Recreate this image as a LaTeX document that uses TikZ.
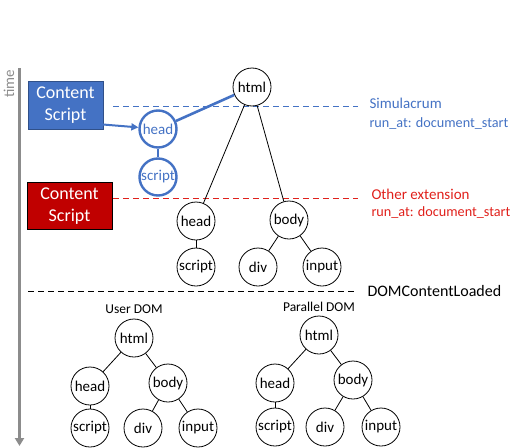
\documentclass[tikz,border=0pt]{standalone}
\usepackage{fontspec}
\setmainfont{Carlito}
\usetikzlibrary{arrows.meta}
\definecolor{myblue}{HTML}{4472C4}
\definecolor{boxred}{HTML}{C00000}
\definecolor{myred}{HTML}{E0201B}
\definecolor{mygray}{HTML}{8C8C8C}
\tikzset{
  dom/.style={circle,draw=black,line width=0.8pt,minimum size=38pt,inner sep=0pt,font=\fontsize{15}{15}\selectfont},
  bdom/.style={circle,draw=myblue,line width=2.4pt,minimum size=37pt,inner sep=0pt,text=myblue,font=\fontsize{15}{15}\selectfont},
  edge/.style={line width=0.8pt},
  bedge/.style={line width=2.6pt,draw=myblue},
  csbox/.style={minimum width=#1,align=center,text=white,font=\fontsize{18}{22}\selectfont},
  lbl/.style={anchor=west,font=\fontsize{15}{15}\selectfont},
  slbl/.style={anchor=west,font=\fontsize{14.2}{15}\selectfont},
  dline/.style={dashed,dash pattern=on 6pt off 4pt,line width=1pt}
}
\begin{document}
\begin{tikzpicture}[x=1pt,y=-1pt]
\useasboundingbox (0,0) rectangle (511,447);
% time axis
\coordinate (t0) at (19.5,68);
\coordinate (t1) at (19.5,446);
\draw[mygray,line width=2.2pt,-{Triangle[length=8pt,width=9pt]}] (t0) -- (t1);
\node[rotate=90,text=mygray,font=\fontsize{15}{15}\selectfont] (time) at (9,84) {time};
% blue content script
\node[csbox=75pt,fill=myblue,draw=myblue!70!black,line width=0.6pt,minimum height=48pt] (cs1) at (65.5,105) {Content\\Script};
\coordinate (bl0) at (113,106.5);
\coordinate (bl1) at (358,106.5);
\draw[dline,myblue] (bl0) -- (bl1);
\node[lbl,text=myblue] (sim) at (366,103) {Simulacrum};
\node[slbl,text=myblue] (sim2) at (366,124) {run\_at: document\_start};
% red content script
\node[csbox=85pt,fill=boxred,draw=black,line width=0.6pt,minimum height=47pt] (cs2) at (69.5,206) {Content\\Script};
\coordinate (rl0) at (113,198);
\coordinate (rl1) at (358,198);
\draw[dline,myred] (rl0) -- (rl1);
\node[lbl,text=myred] (oth) at (368,194) {Other extension};
\node[slbl,text=myred] (oth2) at (368,213) {run\_at: document\_start};
% DOMContentLoaded
\coordinate (kl0) at (28,291);
\coordinate (kl1) at (356,291);
\draw[dline,black] (kl0) -- (kl1);
\node[anchor=west,font=\fontsize{16}{16}\selectfont] (dcl) at (364,291) {DOMContentLoaded};
% top tree
\node[dom] (h) at (252,87) {html};
\node[dom] (hh) at (196,221) {head};
\node[dom] (hb) at (289,220) {body};
\node[dom] (hs) at (196,267) {script};
\node[dom] (hd) at (258,267) {div};
\node[dom] (hi) at (322,267) {input};
\draw[edge] (h) -- (hh);
\draw[edge] (h) -- (hb);
\draw[edge] (hh) -- (hs);
\draw[edge] (hb) -- (hd);
\draw[edge] (hb) -- (hi);
% blue injected
\node[bdom] (bh) at (158,129) {head};
\node[bdom] (bs) at (158,177) {script};
\draw[bedge] (bh) -- (bs);
\draw[bedge] (bh) -- (h);
\coordinate (ca) at (103,124.5);
\draw[myblue,line width=2pt,-{Triangle[length=7pt,width=7pt]}] (ca) -- (bh);
% user DOM
\node[font=\fontsize{13.5}{13.5}\selectfont] (ud) at (134,309) {User DOM};
\node[dom] (uh) at (134,338) {html};
\node[dom] (uhh) at (90,386) {head};
\node[dom] (ub) at (168,383) {body};
\node[dom] (us) at (90,428) {script};
\node[dom] (udv) at (143,428) {div};
\node[dom] (ui) at (198,428) {input};
\draw[edge] (uh) -- (uhh);
\draw[edge] (uh) -- (ub);
\draw[edge] (uhh) -- (us);
\draw[edge] (ub) -- (udv);
\draw[edge] (ub) -- (ui);
% parallel DOM
\node[font=\fontsize{13.5}{13.5}\selectfont] (pd) at (319,307) {Parallel DOM};
\node[dom] (ph) at (319,335) {html};
\node[dom] (phh) at (275,383) {head};
\node[dom] (pb) at (353,380) {body};
\node[dom] (ps) at (275,427) {script};
\node[dom] (pdv) at (325,427) {div};
\node[dom] (pi) at (381,427) {input};
\draw[edge] (ph) -- (phh);
\draw[edge] (ph) -- (pb);
\draw[edge] (phh) -- (ps);
\draw[edge] (pb) -- (pdv);
\draw[edge] (pb) -- (pi);
\end{tikzpicture}
\end{document}
